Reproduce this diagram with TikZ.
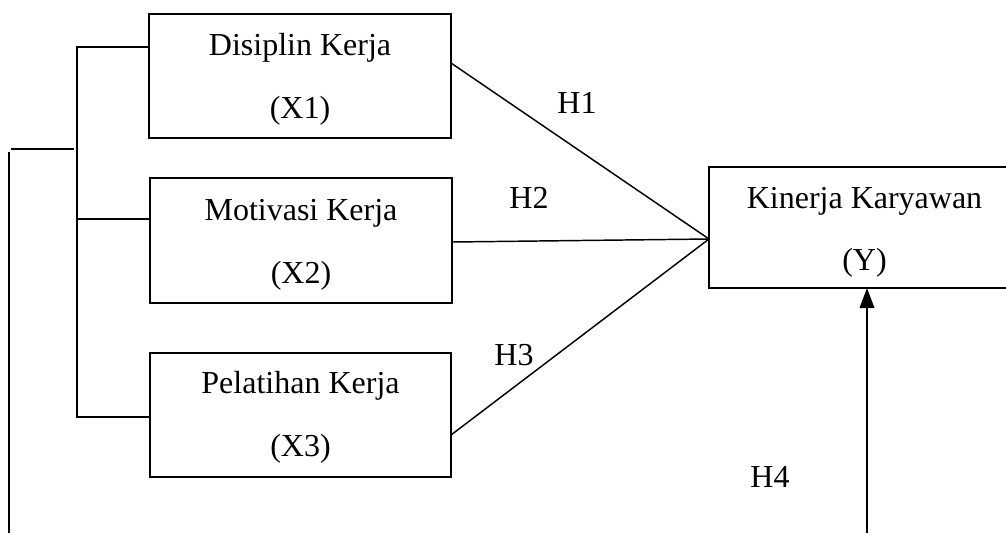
\documentclass[tikz,border=0pt]{standalone}
\usepackage{fontspec}
\setmainfont{Liberation Serif}
\usetikzlibrary{arrows.meta}
\begin{document}
\begin{tikzpicture}[x=0.75pt,y=-0.75pt,
  box/.style={draw,line width=0.9pt,inner sep=0pt,outer sep=0pt},
  txt/.style={anchor=base,inner sep=0pt,font=\fontsize{24}{28}\selectfont},
  conn/.style={line width=1.1pt},
  lbl/.style={anchor=base,inner sep=0pt,font=\fontsize{24}{28}\selectfont}]
\useasboundingbox (0,0) rectangle (1006,533);
\clip (0,0) rectangle (1006,533);
% boxes
\node[box,minimum width=226.5pt,minimum height=93pt] (x1) at (300,76) {};
\node[box,minimum width=226.5pt,minimum height=93.75pt] (x2) at (301,240.5) {};
\node[box,minimum width=225.75pt,minimum height=93pt] (x3) at (300.5,415) {};
\node[box,minimum width=233.25pt,minimum height=90.75pt] (y) at (864.5,227.5) {};
% box texts
\node[txt] (x1a) at (300,55) {Disiplin Kerja};
\node[txt] (x1b) at (300,118) {(X1)};
\node[txt] (x2a) at (301,220) {Motivasi Kerja};
\node[txt] (x2b) at (301,283) {(X2)};
\node[txt] (x3a) at (300.5,393) {Pelatihan Kerja};
\node[txt] (x3b) at (300.5,456) {(X3)};
\node[txt] (ya) at (864.5,208) {Kinerja Karyawan};
\node[txt] (yb) at (864.5,270) {(Y)};
% hypothesis labels
\node[lbl] (h1) at (577,113) {H1};
\node[lbl] (h2) at (529,208) {H2};
\node[lbl] (h3) at (514,365) {H3};
\node[lbl] (h4) at (770,487) {H4};
% connector points
\coordinate (c) at (709,239);
\coordinate (e1) at (451,63);
\coordinate (e2) at (452,242);
\coordinate (e3) at (451,435);
\draw[conn] (e1) -- (c);
\draw[conn] (e2) -- (c);
\draw[conn] (e3) -- (c);
% bracket
\coordinate (b1) at (77,47);
\coordinate (b2) at (77,219);
\coordinate (b3) at (77,417);
\draw[conn] (b1 -| x1.west) -- (b1) -- (b3) -- (b3 -| x3.west);
\draw[conn] (b2) -- (b2 -| x2.west);
% outer line
\coordinate (o1) at (11,149);
\coordinate (o2) at (74,149);
\coordinate (o3) at (9,152);
\coordinate (o4) at (9,533);
\draw[conn] (o1) -- (o2);
\draw[conn] (o3) -- (o4);
% arrow H4
\coordinate (a0) at (867,533);
\draw[conn,-{Triangle[length=15pt,width=11pt]}] (a0) -- (a0 |- y.south);
\end{tikzpicture}
\end{document}
